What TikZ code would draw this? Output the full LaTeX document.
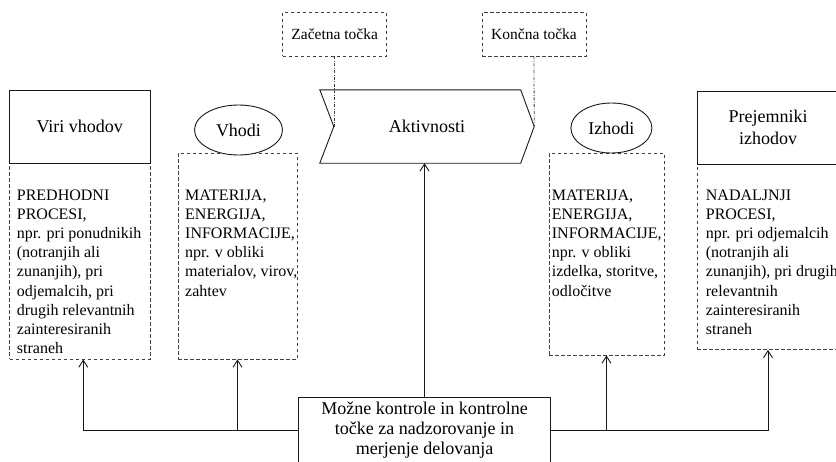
\documentclass[tikz,border=0pt]{standalone}
\usepackage{fontspec}
\setmainfont{Liberation Serif}
\usetikzlibrary{shapes.geometric,arrows.meta}

% font sizes used in the chart
\newcommand{\ttlfont}{\fontsize{18}{22.5}\selectfont}
\newcommand{\txtfont}{\fontsize{16}{19.1}\selectfont}
\newcommand{\mrkfont}{\fontsize{15.5}{18}\selectfont}
\newcommand{\ctlfont}{\fontsize{18}{20}\selectfont}

\tikzset{
  solidline/.style={draw=black!90, line width=0.9pt},
  titlebox/.style={solidline, rectangle, inner sep=0pt, fill=white,
    minimum height=73pt, font=\ttlfont, align=center},
  descbox/.style={draw=black!75, line width=0.9pt, dash pattern=on 3.5pt off 2.5pt,
    rectangle, inner sep=0pt},
  desctext/.style={inner sep=0pt, anchor=north west, align=left, font=\txtfont},
  oval/.style={solidline, ellipse, fill=white, inner sep=0pt, font=\ttlfont},
  markbox/.style={descbox, font=\mrkfont, minimum width=104pt, minimum height=43.7pt},
  ctlbox/.style={solidline, rectangle, inner sep=0pt, fill=white, font=\ctlfont,
    align=center, minimum width=252pt, minimum height=66pt},
  link/.style={solidline, -{Straight Barb[length=7pt,width=9pt]}},
  marklink/.style={draw=black!75, line width=0.8pt,
    dash pattern=on 3pt off 1.5pt on 0.8pt off 1.5pt},
}

\begin{document}
\begin{tikzpicture}[x=1pt, y=-1pt]
  \useasboundingbox (0,0) rectangle (836,461);
  \clip (0,0) rectangle (836,461);
  \fill[white] (0,0) rectangle (836,461);

  % start and end markers
  \node[markbox] (zac) at (334.7,34.15) {Začetna točka};
  \node[markbox] (konc) at (534,34.15) {Končna točka};

  % activity chevron
  \node[inner sep=0pt, minimum width=214pt, minimum height=73pt, font=\ttlfont]
    (akt) at (427,126.5) {Aktivnosti};
  \draw[solidline] (akt.north west) -- ([xshift=-13.5pt]akt.north east) -- (akt.east)
    -- ([xshift=-13.5pt]akt.south east) -- (akt.south west) -- ([xshift=14pt]akt.west)
    -- cycle;

  % marker connectors
  \draw[marklink] (zac.south) -- (zac.south |- akt.west);
  \draw[marklink] (konc.south) -- (akt.east);

  % sources of inputs
  \node[descbox, minimum width=140.5pt, minimum height=196pt] (viridesc) at (79.75,261) {};
  \node[titlebox, minimum width=140.5pt] (viri) at (79.75,126.5) {Viri vhodov};
  \node[desctext] (viritxt) at (16.7,189.8) {PREDHODNI\\PROCESI,\\npr. pri ponudnikih\\(notranjih ali\\zunanjih), pri\\odjemalcih, pri\\drugih relevantnih\\zainteresiranih\\straneh};

  % inputs
  \node[descbox, minimum width=119pt, minimum height=206pt] (vhodidesc) at (237.5,256) {};
  \node[oval, minimum width=88pt, minimum height=50pt] (vhodi) at (238.5,130) {Vhodi};
  \node[desctext] (vhoditxt) at (185,189.8) {MATERIJA,\\ENERGIJA,\\INFORMACIJE,\\npr. v obliki\\materialov, virov,\\zahtev};

  % outputs
  \node[descbox, minimum width=115pt, minimum height=202pt] (izhodidesc) at (606.5,254) {};
  \node[oval, minimum width=81pt, minimum height=50pt] (izhodi) at (611.4,128) {Izhodi};
  \node[desctext] (izhoditxt) at (551.7,189.8) {MATERIJA,\\ENERGIJA,\\INFORMACIJE,\\npr. v obliki\\izdelka, storitve,\\odločitve};

  % receivers of outputs
  \node[descbox, minimum width=142pt, minimum height=186.5pt] (prejdesc) at (768,256.25) {};
  \node[titlebox, minimum width=142pt] (prej) at (768,127.5) {Prejemniki\\izhodov};
  \node[desctext] (prejtxt) at (705.7,189.8) {NADALJNJI\\PROCESI,\\npr. pri odjemalcih\\(notranjih ali\\zunanjih), pri drugih\\relevantnih\\zainteresiranih\\straneh};

  % controls and checkpoints
  \node[ctlbox] (ctl) at (424.5,430) {Možne kontrole in kontrolne\\točke za nadzorovanje in\\merjenje delovanja};

  % control connectors
  \draw[link] (ctl.north) -- (ctl.north |- akt.south);
  \draw[link] (ctl.west) -| ([xshift=3.5pt]viridesc.south);
  \draw[link] (ctl.west -| vhodidesc.south) -- (vhodidesc.south);
  \draw[link] (ctl.east) -| (prejdesc.south);
  \draw[link] (ctl.east -| izhodidesc.south) -- (izhodidesc.south);
\end{tikzpicture}
\end{document}
